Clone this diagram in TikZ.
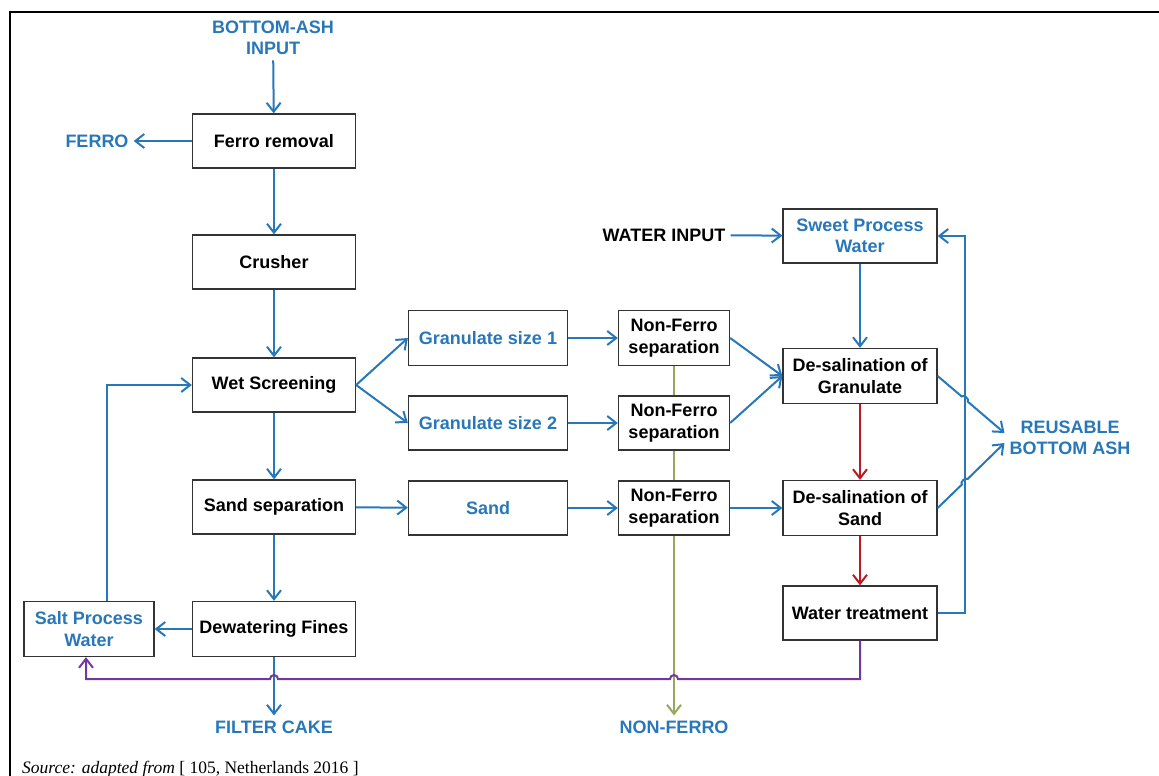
\documentclass[tikz,border=0pt]{standalone}
\usepackage{fontspec}
\setmainfont{Liberation Serif}
\setsansfont{Liberation Sans}
\usetikzlibrary{arrows.meta,calc}
\definecolor{flowblue}{RGB}{40,120,185}
\definecolor{flowred}{RGB}{190,25,35}
\definecolor{flowgreen}{RGB}{150,168,90}
\definecolor{flowpurple}{RGB}{115,55,160}
\begin{document}
\begin{tikzpicture}[x=1pt, y=-1pt, >={Straight Barb[length=9pt,width=14pt]},
    proc/.style={draw=black!80, line width=1.3pt, fill=white, align=center, inner sep=2pt,
        font=\fontsize{18}{21.5}\selectfont\sffamily\bfseries},
    lbl/.style={align=center, inner sep=5pt, text=flowblue,
        font=\fontsize{18}{21.5}\selectfont\sffamily\bfseries},
    flow/.style={draw=flowblue, line width=2pt},
    rflow/.style={draw=flowred, line width=2pt},
    gflow/.style={draw=flowgreen, line width=2pt},
    pflow/.style={draw=flowpurple, line width=2pt}]
    \useasboundingbox (0,0) rectangle (1159,776);
    \draw[line width=2.6pt] (10,776) -- (10,12) -- (1159,12);

    % process boxes
    \node[proc, minimum width=163pt, minimum height=54pt] (ferro) at (274,141) {Ferro removal};
    \node[proc, minimum width=163pt, minimum height=54pt] (crush) at (274,262) {Crusher};
    \node[proc, minimum width=163pt, minimum height=54pt] (wet) at (274,385) {Wet Screening};
    \node[proc, minimum width=163pt, minimum height=54pt] (sandsep) at (274,507) {Sand separation};
    \node[proc, minimum width=163pt, minimum height=55pt] (dew) at (274,629) {Dewatering Fines};
    \node[proc, text=flowblue, minimum width=130pt, minimum height=55pt] (salt) at (89,629) {Salt Process\\Water};

    \node[proc, text=flowblue, minimum width=159pt, minimum height=55pt] (gran1) at (488,338) {Granulate size 1};
    \node[proc, text=flowblue, minimum width=159pt, minimum height=54pt] (gran2) at (488,423) {Granulate size 2};
    \node[proc, text=flowblue, minimum width=159pt, minimum height=54pt] (sandb) at (488,508) {Sand};

    \node[proc, minimum width=111pt, minimum height=55pt] (nf1) at (674,338) {Non-Ferro\\separation};
    \node[proc, minimum width=111pt, minimum height=54pt] (nf2) at (674,423) {Non-Ferro\\separation};
    \node[proc, minimum width=111pt, minimum height=54pt] (nf3) at (674,508) {Non-Ferro\\separation};

    \node[proc, text=flowblue, minimum width=154pt, minimum height=54pt] (sweet) at (860,236) {Sweet Process\\Water};
    \node[proc, minimum width=154pt, minimum height=55pt] (desg) at (860,376) {De-salination of\\Granulate};
    \node[proc, minimum width=154pt, minimum height=55pt] (dess) at (860,508) {De-salination of\\Sand};
    \node[proc, minimum width=154pt, minimum height=54pt] (wtreat) at (860,613) {Water treatment};

    % in and out labels
    \node[lbl] (inp) at (273,38) {BOTTOM-ASH\\INPUT};
    \node[lbl] (ferrol) at (97,141) {FERRO};
    \node[lbl, text=black] (water) at (664,235) {WATER INPUT};
    \node[lbl] (reuse) at (1070,438) {REUSABLE\\BOTTOM ASH};
    \node[lbl] (cake) at (274,727) {FILTER CAKE};
    \node[lbl] (nonf) at (674,727) {NON-FERRO};

    \node[anchor=base west, inner sep=0pt, font=\fontsize{17.5}{21}\selectfont] (src) at (22,773)
        {\itshape Source: adapted from\upshape{} [ 105, Netherlands 2016 ]};

    % main line
    \draw[flow,->] (inp) -- (ferro);
    \draw[flow,->] (ferro) -- (ferrol);
    \draw[flow,->] (ferro) -- (crush);
    \draw[flow,->] (crush) -- (wet);
    \draw[flow,->] (wet) -- (sandsep);
    \draw[flow,->] (sandsep) -- (dew);
    \draw[flow,->] (dew) -- (salt);
    \draw[flow,->] (dew) -- (cake);
    \draw[flow,->] ($(salt.north)+(18,0)$) |- (wet.west);

    \draw[flow,->] (wet.east) -- (gran1.west);
    \draw[flow,->] (wet.east) -- (gran2.west);
    \draw[flow,->] (sandsep) -- (sandb);
    \draw[flow,->] (gran1) -- (nf1);
    \draw[flow,->] (gran2) -- (nf2);
    \draw[flow,->] (sandb) -- (nf3);
    \draw[flow,->] (nf1.east) -- (desg.west);
    \draw[flow,->] (nf2.east) -- (desg.west);
    \draw[flow,->] (nf3) -- (dess);

    \draw[gflow] (nf1) -- (nf2);
    \draw[gflow] (nf2) -- (nf3);
    \draw[gflow,->] (nf3) -- (nonf);

    % water circuit
    \draw[flow,->] (water) -- (sweet);
    \draw[flow,->] (sweet) -- (desg);
    \draw[rflow,->] (desg) -- (dess);
    \draw[rflow,->] (dess) -- (wtreat);

    \coordinate (vb) at ($(wtreat.east)+(27,0)$);
    \coordinate (vt) at (vb |- sweet.east);
    \draw[flow,->] (wtreat.east) -- (vb) -- (vt) -- (sweet.east);

    \coordinate (ra) at ($(reuse.west)+(0,-5)$);
    \coordinate (rb) at ($(reuse.west)+(0,5)$);
    \coordinate (h1) at (intersection of desg.east--ra and vt--vb);
    \coordinate (h2) at (intersection of dess.east--rb and vt--vb);
    \draw[flow,->] (desg.east) -- ($(h1)!4pt!(desg.east)$) to[bend left=90] ($(h1)!4pt!(ra)$) -- (ra);
    \draw[flow,->] (dess.east) -- ($(h2)!4pt!(dess.east)$) to[bend left=90] ($(h2)!4pt!(rb)$) -- (rb);

    \coordinate (pl) at (86,679);
    \draw[pflow,->] (wtreat.south) -- (wtreat.south |- pl)
        -- ($(nf3.south |- pl)+(4,0)$) arc[start angle=0, end angle=180, radius=4pt]
        -- ($(dew.south |- pl)+(4,0)$) arc[start angle=0, end angle=180, radius=4pt]
        -- (pl) -- (pl |- salt.south);
\end{tikzpicture}
\end{document}
